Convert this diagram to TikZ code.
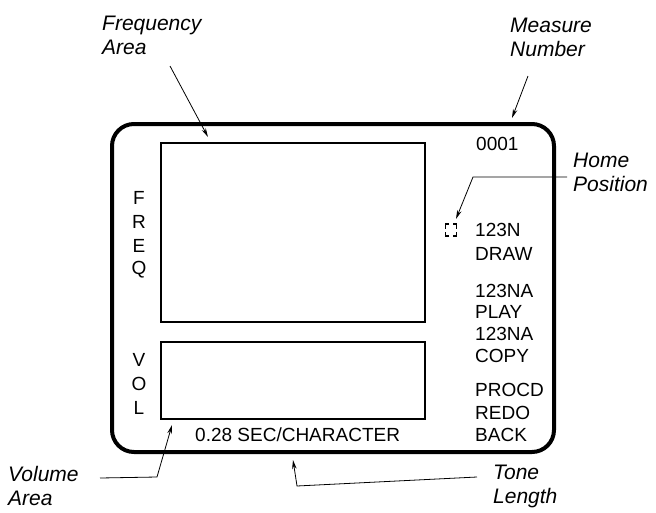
\documentclass[tikz,border=0pt]{standalone}
\usepackage{fontspec}
\setmainfont{Liberation Sans}
\usetikzlibrary{arrows.meta}
\begin{document}
\begin{tikzpicture}[x=1pt,y=-1pt,
  frame/.style={draw, line width=4pt, rounded corners=22pt, inner sep=0pt, anchor=north west},
  panel/.style={draw, line width=1.6pt, inner sep=0pt, anchor=north west},
  scr/.style={font=\fontsize{19}{19}\selectfont, inner sep=0pt, anchor=west},
  side/.style={font=\fontsize{19}{19}\selectfont, inner sep=0pt, anchor=center},
  lbl/.style={font=\fontsize{21}{24}\selectfont\itshape, inner sep=0pt, align=left},
  corner/.style={line width=1.8pt},
  arr/.style={line width=0.8pt, -{Stealth[length=9pt,width=4.5pt]}}]
\useasboundingbox (0,0) rectangle (656,512);
% screen frame and panels
\node[frame, minimum width=442pt, minimum height=328pt] (screen) at (110,122) {};
\node[panel, minimum width=264pt, minimum height=179pt] (freq) at (160,142) {};
\node[panel, minimum width=264pt, minimum height=77pt] (vol) at (160,341) {};
% side letters
\node[side] (f1) at (139,198) {F};
\node[side] (f2) at (139,222) {R};
\node[side] (f3) at (139,246) {E};
\node[side] (f4) at (139,270) {Q};
\node[side] (v1) at (139,360) {V};
\node[side] (v2) at (139,384) {O};
\node[side] (v3) at (139,408) {L};
\node[scr] (sec) at (195,435) {0.28 SEC/CHARACTER};
% right column
\node[scr] (m0) at (476,144) {0001};
\node[scr] (m1) at (475,230) {123N};
\node[scr] (m2) at (475,254) {DRAW};
\node[scr] (m3) at (475,291) {123NA};
\node[scr] (m4) at (475,312) {PLAY};
\node[scr] (m5) at (475,334) {123NA};
\node[scr] (m6) at (475,356) {COPY};
\node[scr] (m7) at (475,390) {PROCD};
\node[scr] (m8) at (475,413) {REDO};
\node[scr] (m9) at (475,435) {BACK};
% home cursor (four corner marks)
\coordinate (hc) at (451,230);
\draw[corner] ([xshift=-2pt,yshift=-6pt]hc) -- ([xshift=-5.5pt,yshift=-6pt]hc) -- ([xshift=-5.5pt,yshift=-2pt]hc);
\draw[corner] ([xshift=2pt,yshift=-6pt]hc) -- ([xshift=5.5pt,yshift=-6pt]hc) -- ([xshift=5.5pt,yshift=-2pt]hc);
\draw[corner] ([xshift=-2pt,yshift=6pt]hc) -- ([xshift=-5.5pt,yshift=6pt]hc) -- ([xshift=-5.5pt,yshift=1.5pt]hc);
\draw[corner] ([xshift=2pt,yshift=6pt]hc) -- ([xshift=5.5pt,yshift=6pt]hc) -- ([xshift=5.5pt,yshift=1.5pt]hc);
% labels
\node[lbl, anchor=base west] (lfreq) at (102,54) {Frequency\\Area};
\node[lbl, anchor=base west] (lmeas) at (510,56) {Measure\\Number};
\node[lbl, anchor=base west] (lhome) at (573,191) {Home\\Position};
\node[lbl, anchor=base west] (lvol) at (8,505) {Volume\\Area};
\node[lbl, anchor=base west] (ltone) at (493,503) {Tone\\Length};
% leaders
\coordinate (fa0) at (170,66);
\coordinate (fa1) at (208,137);
\draw[arr] (fa0) -- (fa1);
\coordinate (ma0) at (528,76);
\coordinate (ma1) at (512,118);
\draw[arr] (ma0) -- (ma1);
\coordinate (ha0) at (567,177);
\coordinate (ha1) at (473,177);
\coordinate (ha2) at (456,219);
\draw[arr] (ha0) -- (ha1) -- (ha2);
\coordinate (va0) at (100,478);
\coordinate (va1) at (157,477);
\coordinate (va2) at (172,425);
\draw[arr] (va0) -- (va1) -- (va2);
\coordinate (ta0) at (477,477);
\coordinate (ta1) at (297,486);
\coordinate (ta2) at (293,460);
\draw[arr] (ta0) -- (ta1) -- (ta2);
\end{tikzpicture}
\end{document}
